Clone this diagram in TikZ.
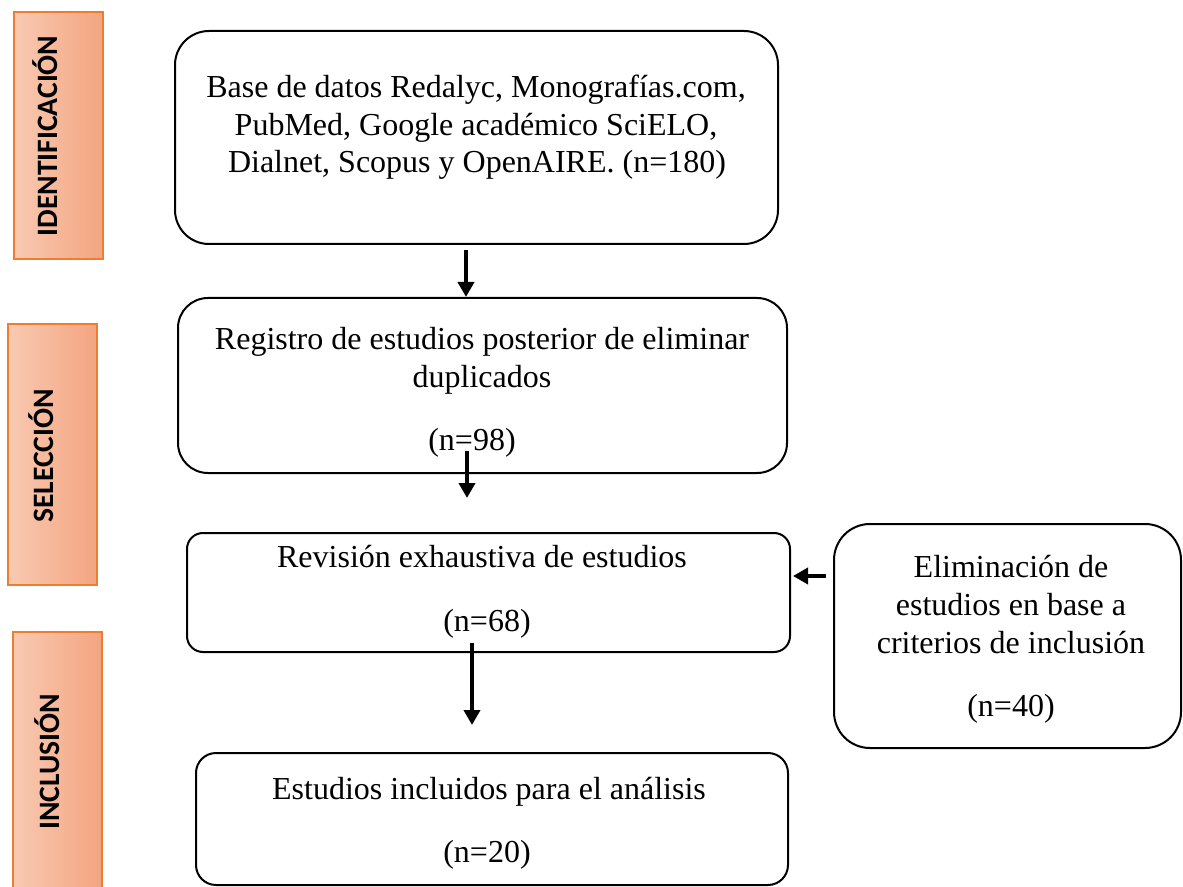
\documentclass[tikz,border=0pt]{standalone}
\usepackage{fontspec}
\setmainfont{Liberation Serif}
\newfontfamily\labfont{Carlito}
\usetikzlibrary{arrows.meta}
\definecolor{labL}{RGB}{248,202,178}
\definecolor{labR}{RGB}{244,164,128}
\definecolor{labB}{RGB}{237,125,49}
\begin{document}
\begin{tikzpicture}[x=0.5pt,y=-0.5pt,
  box/.style={draw=black,line width=1pt,inner sep=0pt,rectangle},
  lab/.style={draw=labB,line width=0.6pt,inner sep=0pt,rectangle,left color=labL,right color=labR},
  labtxt/.style={font=\labfont\bfseries\fontsize{14.8}{16}\selectfont,rotate=90,inner sep=0pt},
  txt/.style={font=\fontsize{16}{18.75}\selectfont,inner sep=0pt,text height=10.5pt,text depth=0pt},
  arr/.style={line width=2pt,-{Triangle[width=8pt,length=7.5pt]}}]
\useasboundingbox (0,0) rectangle (1183,887);
\fill[white] (0,0) rectangle (1183,887);
% side labels
\node[lab,minimum width=44.5pt,minimum height=123.5pt] (lab1) at (58.5,135.5) {};
\node[lab,minimum width=44.5pt,minimum height=130.5pt] (lab2) at (52.5,454.5) {};
\node[lab,minimum width=44.5pt,minimum height=134pt] (lab3) at (57.5,766) {};
\node[labtxt] (l1) at (45,136) {IDENTIFICACIÓN};
\node[labtxt] (l2) at (41,456) {SELECCIÓN};
\node[labtxt] (l3) at (47,762) {INCLUSIÓN};
% boxes
\node[box,rounded corners=17pt,minimum width=301.5pt,minimum height=106.5pt] (b1) at (476.5,137.5) {};
\node[box,rounded corners=15pt,minimum width=304.5pt,minimum height=87.5pt] (b2) at (482.5,385.5) {};
\node[box,rounded corners=8pt,minimum width=301.5pt,minimum height=59.5pt] (b3) at (488.5,592.5) {};
\node[box,rounded corners=18pt,minimum width=173.5pt,minimum height=112pt] (b4) at (1007.5,636) {};
\node[box,rounded corners=10pt,minimum width=296pt,minimum height=66pt] (b5) at (492,819) {};
% texts
\node[txt] (t11) at (476,87) {Base de datos Redalyc, Monografías.com,};
\node[txt] (t12) at (476,125) {PubMed, Google académico SciELO,};
\node[txt] (t13) at (477,162) {Dialnet, Scopus y OpenAIRE. (n=180)};
\node[txt] (t21) at (482,339) {Registro de estudios posterior de eliminar};
\node[txt] (t22) at (482,377) {duplicados};
\node[txt] (t23) at (472,440) {(n=98)};
\node[txt] (t31) at (482,557) {Revisión exhaustiva de estudios};
\node[txt] (t32) at (487,621) {(n=68)};
\node[txt] (t41) at (1011,567) {Eliminación de};
\node[txt] (t42) at (1011,605) {estudios en base a};
\node[txt] (t43) at (1011,643) {criterios de inclusión};
\node[txt] (t44) at (1011,706) {(n=40)};
\node[txt] (t51) at (489,789) {Estudios incluidos para el análisis};
\node[txt] (t52) at (487,852) {(n=20)};
% arrows
\coordinate (a1s) at (466,250);
\coordinate (a2s) at (467,451);
\coordinate (a2e) at (467,498);
\coordinate (a3e) at (793,576);
\coordinate (a4s) at (472,643);
\coordinate (a4e) at (472,725);
\draw[arr] (a1s) -- (a1s |- b2.north);
\draw[arr] (a2s) -- (a2e);
\draw[arr] (b4.west |- a3e) ++(-7,0) -- (a3e);
\draw[arr] (a4s) -- (a4e);
\end{tikzpicture}
\end{document}
